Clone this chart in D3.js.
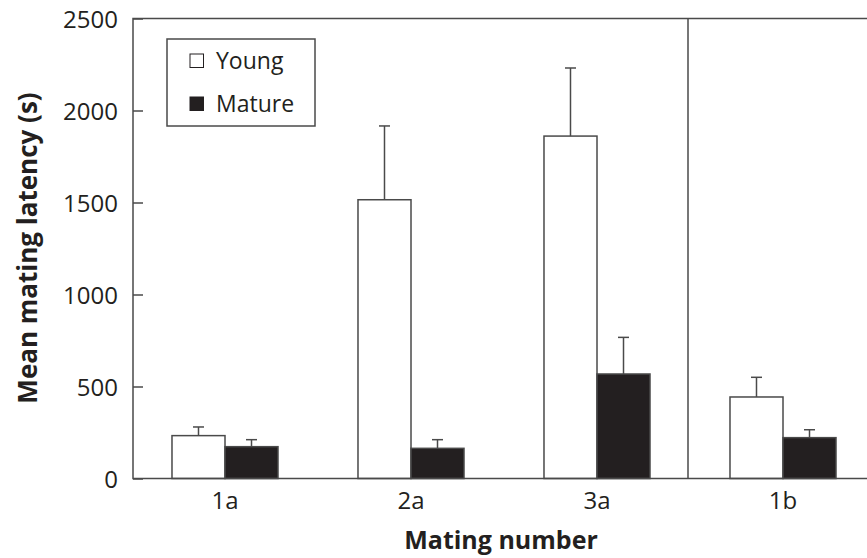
<!DOCTYPE html>
<html>
<head>
<meta charset="utf-8">
<script src="https://cdn.jsdelivr.net/npm/d3@7"></script>
<style>
  body { margin: 0; background: #fff; }
  text { font-family: "Open Sans", sans-serif; fill: #231f20; }
</style>
</head>
<body>
<div id="chart"></div>
<script>
const width = 867
const height = 558
const margin = { top: 18.5, bottom: 79.5, left: 133, right: -9 }

// data
const matings = ["1a", "2a", "3a", "1b"]
const groups = ["Young", "Mature"]
const youngMean = [233, 1515, 1861, 443]
const youngErr = [47, 401, 370, 107]
const matureMean = [173, 164, 568, 222]
const matureErr = [38, 47, 199, 43]
const yTicks = [0, 500, 1000, 1500, 2000, 2500]

const rows = []
matings.forEach((m, i) => {
    rows.push({ mating: m, group: "Young", mean: youngMean[i], err: youngErr[i] })
    rows.push({ mating: m, group: "Mature", mean: matureMean[i], err: matureErr[i] })
})

const svg = d3.select("#chart").append("svg").attr("width", width).attr("height", height)

const x = d3.scaleBand().domain(matings)
    .range([margin.left - 1, width - margin.right])
    .paddingInner(0.43).paddingOuter(0.215)
const xg = d3.scaleBand().domain(groups).range([0, x.bandwidth()])
const y = d3.scaleLinear().domain([0, 2500]).range([height - margin.bottom, margin.top])

const lineColor = "#4a4a4a"

// bars
svg.append("g").selectAll("rect").data(rows).join("rect")
    .attr("x", d => x(d.mating) + xg(d.group))
    .attr("y", d => y(d.mean))
    .attr("width", xg.bandwidth())
    .attr("height", d => y(0) - y(d.mean))
    .attr("fill", d => d.group == "Young" ? "#fff" : "#231f20")
    .attr("stroke", lineColor)
    .attr("stroke-width", 1.5)

// error bars (upper only)
const err = svg.append("g").attr("stroke", lineColor).attr("stroke-width", 1.5)
rows.forEach(d => {
    const cx = x(d.mating) + xg(d.group) + xg.bandwidth() / 2
    err.append("line").attr("x1", cx).attr("x2", cx).attr("y1", y(d.mean)).attr("y2", y(d.mean + d.err))
    err.append("line").attr("x1", cx - 5.5).attr("x2", cx + 5.5).attr("y1", y(d.mean + d.err)).attr("y2", y(d.mean + d.err))
})

// divider between series a and b
const divX = (x("3a") + x.bandwidth() + x("1b")) / 2 - 2
svg.append("line").attr("x1", divX).attr("x2", divX).attr("y1", y(2500)).attr("y2", y(0))
    .attr("stroke", lineColor).attr("stroke-width", 1.5)

// y axis
const yAxis = d3.axisRight(y).tickValues(yTicks).tickSize(10).tickFormat(d3.format("d"))
const yAxisGroup = svg.append("g").attr("transform", `translate(${margin.left}, 0)`).call(yAxis)
yAxisGroup.select(".domain").remove()
yAxisGroup.selectAll("line").attr("stroke", lineColor).attr("stroke-width", 1.5)
yAxisGroup.selectAll("text").attr("x", -15).attr("text-anchor", "end")
    .style("font-size", "24px").attr("dy", "0.36em")

// frame: left, top, bottom
svg.append("path")
    .attr("d", `M${width},${y(2500)}H${margin.left}V${y(0)}H${width}`)
    .attr("fill", "none").attr("stroke", lineColor).attr("stroke-width", 1.5)

// x labels
const xAxis = d3.axisBottom(x).tickSize(0).tickPadding(13)
const xAxisGroup = svg.append("g").attr("transform", `translate(0, ${y(0)})`).call(xAxis)
xAxisGroup.select(".domain").remove()
xAxisGroup.selectAll("text").style("font-size", "24px").attr("dy", "0.71em")

// axis titles
svg.append("text").attr("x", 501).attr("y", 549).attr("text-anchor", "middle")
    .style("font-size", "25px").style("font-weight", "bold").text("Mating number")
svg.append("text").attr("transform", "translate(37, 248) rotate(-90)").attr("text-anchor", "middle")
    .style("font-size", "26px").style("font-weight", "bold").text("Mean mating latency (s)")

// legend
const legend = svg.append("g")
legend.append("rect").attr("x", 167).attr("y", 39).attr("width", 148).attr("height", 87)
    .attr("fill", "#fff").attr("stroke", lineColor).attr("stroke-width", 1.5)
groups.forEach((g, i) => {
    legend.append("rect").attr("x", 190).attr("y", 54 + i * 43).attr("width", 13.5).attr("height", 13.5)
        .attr("fill", g == "Young" ? "#fff" : "#231f20").attr("stroke", "#231f20").attr("stroke-width", 1)
    legend.append("text").attr("x", 216).attr("y", 69 + i * 43).style("font-size", "23px").text(g)
})
</script>
</body>
</html>
